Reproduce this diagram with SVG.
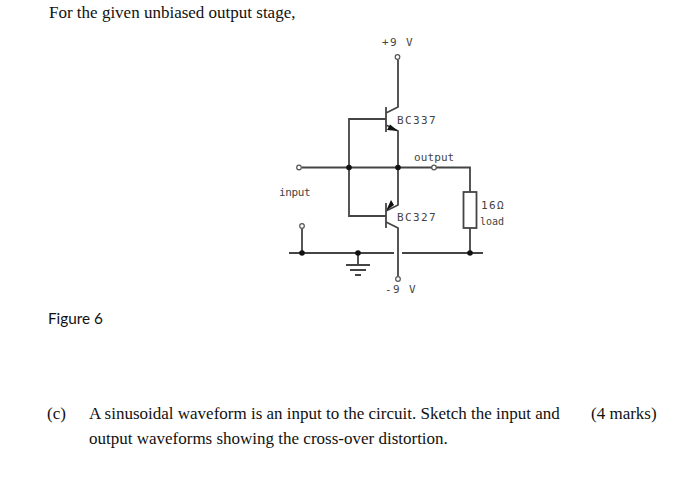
<svg xmlns="http://www.w3.org/2000/svg" width="689" height="486" viewBox="0 0 689 486">
<defs><style>
.w{fill:none;stroke:#444;stroke-width:1.8}
.j{fill:#111}
.o{fill:#fff;stroke:#555;stroke-width:1.2}
.t{font-family:"Liberation Serif",serif;font-size:17px;fill:#111}
.l{font-family:"DejaVu Sans Mono",monospace;font-size:11px;fill:#444;letter-spacing:1.4px}
.n{font-family:"DejaVu Sans Mono",monospace;font-size:11px;fill:#444;letter-spacing:0}
</style></defs>
<rect width="689" height="486" fill="#fff"/>
<text class="t" x="49" y="18">For the given unbiased output stage,</text>
<text x="48" y="324" style="font-family:Lato,sans-serif;font-size:15.300px;fill:#111">Figure 6</text>
<text class="t" x="47" y="419">(c)</text>
<text class="t" x="89" y="419">A sinusoidal waveform is an input to the circuit. Sketch the input and</text>
<text class="t" x="591" y="419">(4 marks)</text>
<text class="t" x="89" y="444">output waveforms showing the cross-over distortion.</text>
<g id="connectors">
<path class="w" d="M398 60V107L386 113M386 125L398 131V205L386 211M386 222L398 228V276"/>
<path class="w" d="M386 119H349V216H386M302 167.500H398H470V192M470 228V253M289 253H394M402 253H483M302 229V253M358 253V265"/>
<path d="M398 131L390 124.500L387 130Z" fill="#111"/>
<path d="M386 211L394 205L391 200Z" fill="#111"/>
</g>
<g id="q1"><path class="w" d="M386 107V132"/><text class="l" x="397" y="124">BC337</text></g>
<g id="q2"><path class="w" d="M386 203V228"/><text class="l" x="397" y="221">BC327</text></g>
<g id="load"><rect class="w" x="463.500" y="192" width="13" height="36" fill="#fff"/><text class="l" x="481" y="209">16Ω</text><text class="n" x="480" y="225" style="font-size:10px">load</text></g>
<g id="ground"><path class="w" d="M346 265H370M350 270H366M355 275H361"/></g>
<g id="terminals">
<circle class="j" cx="349" cy="167.500" r="2.800"/><circle class="j" cx="398" cy="167.500" r="2.800"/><circle class="j" cx="302" cy="253" r="2.800"/><circle class="j" cx="358" cy="253" r="2.800"/><circle class="j" cx="470" cy="253" r="2.800"/>
<circle class="o" cx="397.500" cy="57" r="2.300"/><circle class="o" cx="299" cy="167.500" r="2.300"/><circle class="o" cx="434" cy="167.500" r="2.300"/><circle class="o" cx="302" cy="226" r="2.300"/><circle class="o" cx="398" cy="279" r="2.300"/>
<text class="l" x="382" y="46">+9 V</text>
<text class="n" x="414" y="161" style="letter-spacing:0.100px">output</text>
<text class="n" x="279" y="196" style="letter-spacing:-0.400px">input</text>
<text class="l" x="385" y="293">-9 V</text>
</g>
</svg>
